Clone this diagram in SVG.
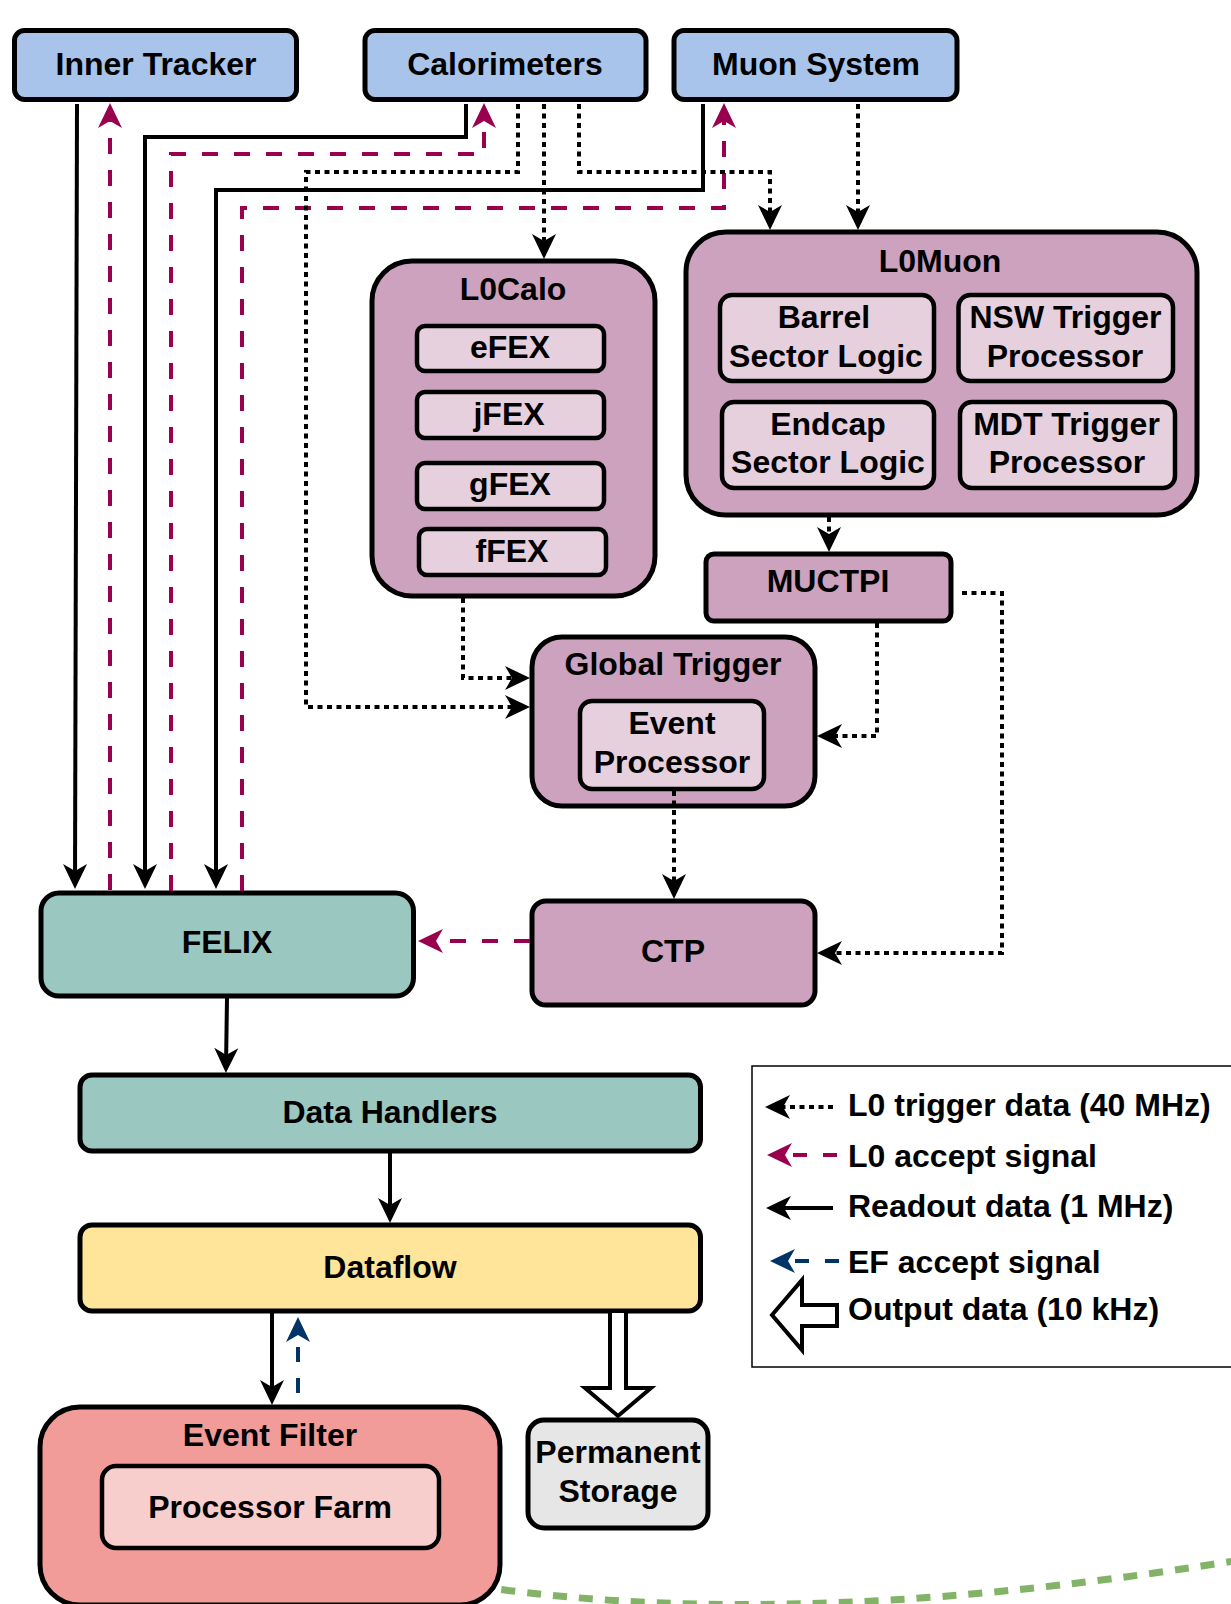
<svg xmlns="http://www.w3.org/2000/svg" width="1231" height="1604" viewBox="0 0 1231 1604">
<style>
text{font-family:"Liberation Sans",Arial,Helvetica,sans-serif;font-weight:bold;font-size:32px;fill:#000;text-anchor:middle}
.box{stroke:#000;stroke-width:5}
.inner{stroke:#000;stroke-width:4.5}
.blue{fill:#A9C4EB}.purple{fill:#CDA2BE}.lpurple{fill:#E6D0DE}.teal{fill:#9AC7BF}.yellow{fill:#FFE599}.red{fill:#F19C99}.lred{fill:#F8CECC}.grey{fill:#E6E6E6}
.c{fill:none;stroke-width:4;stroke-linejoin:miter}
.solid{stroke:#000;marker-end:url(#ak)}
.dot{stroke:#000;stroke-dasharray:5 4.5;marker-end:url(#ak)}
.mag{stroke:#99004D;stroke-dasharray:16 16;marker-end:url(#am)}
.nav{stroke:#003366;stroke-dasharray:15 16;marker-end:url(#ab)}
.legtext{text-anchor:start}
</style>
<defs>
<marker id="ak" viewBox="-30 -15 32 30" markerUnits="userSpaceOnUse" markerWidth="32" markerHeight="30" refX="-6" refY="0" orient="auto"><path d="M0,0 L-25,-12 L-18,0 L-25,12 Z" fill="#000"/></marker>
<marker id="am" viewBox="-30 -15 32 30" markerUnits="userSpaceOnUse" markerWidth="32" markerHeight="30" refX="-6" refY="0" orient="auto"><path d="M0,0 L-25,-12 L-18,0 L-25,12 Z" fill="#99004D"/></marker>
<marker id="ab" viewBox="-30 -15 32 30" markerUnits="userSpaceOnUse" markerWidth="32" markerHeight="30" refX="-6" refY="0" orient="auto"><path d="M0,0 L-25,-12 L-18,0 L-25,12 Z" fill="#003366"/></marker>
</defs>
<rect width="1231" height="1604" fill="#fff"/>

<path id="green-curve" d="M450,1582 C650,1615 900,1615 1240,1560" fill="none" stroke="#82B366" stroke-width="7" stroke-dasharray="14 12"/>

<g id="inner-tracker"><rect class="box blue" x="14.5" y="30.5" width="282" height="69" rx="10"/><text x="156" y="75">Inner Tracker</text></g>
<g id="calorimeters"><rect class="box blue" x="365" y="30.5" width="281" height="69" rx="10"/><text x="505" y="75">Calorimeters</text></g>
<g id="muon-system"><rect class="box blue" x="674" y="30.5" width="283" height="69" rx="10"/><text x="816" y="75">Muon System</text></g>

<g id="l0calo"><rect class="box purple" x="372" y="261" width="283" height="335" rx="40"/><text x="513" y="300">L0Calo</text>
<rect class="inner lpurple" x="417" y="326" width="187" height="45" rx="8"/><text x="510" y="358">eFEX</text>
<rect class="inner lpurple" x="417" y="392" width="187" height="46" rx="8"/><text x="509" y="425">jFEX</text>
<rect class="inner lpurple" x="417" y="463" width="187" height="46" rx="8"/><text x="510" y="495">gFEX</text>
<rect class="inner lpurple" x="419" y="529" width="187" height="46" rx="8"/><text x="512" y="562">fFEX</text></g>

<g id="l0muon"><rect class="box purple" x="686" y="232" width="511" height="283" rx="40"/><text x="940" y="272">L0Muon</text>
<rect class="inner lpurple" x="720" y="295" width="214" height="86" rx="12"/><text x="824" y="328">Barrel</text><text x="826" y="367">Sector Logic</text>
<rect class="inner lpurple" x="958.5" y="295" width="214.5" height="86" rx="12"/><text x="1065.5" y="328">NSW Trigger</text><text x="1065" y="367">Processor</text>
<rect class="inner lpurple" x="722" y="402" width="212" height="86" rx="12"/><text x="828" y="435">Endcap</text><text x="828" y="473">Sector Logic</text>
<rect class="inner lpurple" x="960" y="402" width="215" height="86" rx="12"/><text x="1066.5" y="435">MDT Trigger</text><text x="1067" y="473">Processor</text></g>

<g id="muctpi"><rect class="box purple" x="706" y="554" width="245" height="67" rx="8"/><text x="828" y="592">MUCTPI</text></g>

<g id="global-trigger"><rect class="box purple" x="532" y="637" width="283" height="169" rx="30"/><text x="673" y="675">Global Trigger</text>
<rect class="inner lpurple" x="580" y="701" width="184" height="88" rx="12"/><text x="672" y="734">Event</text><text x="672" y="773">Processor</text></g>

<g id="ctp"><rect class="box purple" x="532" y="901" width="283" height="104" rx="14"/><text x="673" y="962">CTP</text></g>

<g id="felix"><rect class="box teal" x="41" y="893" width="372.5" height="103" rx="18"/><text x="227" y="953">FELIX</text></g>

<g id="data-handlers"><rect class="box teal" x="80" y="1075" width="620.5" height="76" rx="12"/><text x="390" y="1123">Data Handlers</text></g>

<g id="dataflow"><rect class="box yellow" x="80" y="1225" width="620.5" height="86" rx="12"/><text x="390" y="1278">Dataflow</text></g>

<g id="event-filter"><rect class="box red" x="40" y="1407" width="460" height="198" rx="40"/><text x="270" y="1446">Event Filter</text>
<rect class="inner lred" x="102" y="1466" width="337" height="82" rx="14"/><text x="270" y="1518">Processor Farm</text></g>

<g id="permanent-storage"><rect class="box grey" x="528" y="1420" width="180" height="108" rx="16"/><text x="618" y="1463">Permanent</text><text x="618" y="1502">Storage</text></g>

<g id="connectors">
<path class="c solid" d="M77,104 L75,883"/>
<path class="c mag" d="M110,890 V109"/>
<path class="c solid" d="M466,104 V137 H145 V883"/>
<path class="c mag" d="M171,891 V154 H484 V109"/>
<path class="c solid" d="M703,104 V190 H216 V883"/>
<path class="c mag" d="M242,891 V208 H724 V109"/>
<path class="c dot" d="M518,104 V172 H306 V707 H524"/>
<path class="c dot" d="M544,104 V253"/>
<path class="c dot" d="M579,104 V172 H770 V224"/>
<path class="c dot" d="M858,104 V224"/>
<path class="c dot" d="M829,517 V546"/>
<path class="c dot" d="M463,598 V678 H524"/>
<path class="c dot" d="M877,623 V736 H823"/>
<path class="c dot" d="M962,593 H1002 V953 H823"/>
<path class="c dot" d="M674,791 V893"/>
<path class="c mag" d="M530,941 H424"/>
<path class="c solid" d="M227,998 L226,1067"/>
<path class="c solid" d="M390,1153 V1217"/>
<path class="c solid" d="M272,1313 V1399"/>
<path class="c nav" d="M298,1393 V1323"/>
<path d="M610,1313 V1388 H585 L618,1416 L651,1388 H626 V1313" fill="#fff" stroke="#000" stroke-width="4" stroke-linejoin="miter"/>
</g>

<g id="legend">
<rect x="752" y="1066" width="500" height="301" fill="none" stroke="#000" stroke-width="1.5"/>
<path class="c dot" d="M833,1107 H771"/>
<path class="c mag" d="M837,1155 H773" style="stroke-dasharray:14 16"/>
<path class="c solid" d="M833,1208 H772"/>
<path class="c nav" d="M839,1261 H776" style="stroke-dasharray:14 16"/>
<path d="M772,1315 L802,1280 V1305 H837 V1326 H802 V1350 Z" fill="#fff" stroke="#000" stroke-width="4" stroke-linejoin="miter"/>
<text class="legtext" x="848" y="1116">L0 trigger data (40 MHz)</text>
<text class="legtext" x="848" y="1167">L0 accept signal</text>
<text class="legtext" x="848" y="1217">Readout data (1 MHz)</text>
<text class="legtext" x="848" y="1273">EF accept signal</text>
<text class="legtext" x="848" y="1320">Output data (10 kHz)</text>
</g>
</svg>
